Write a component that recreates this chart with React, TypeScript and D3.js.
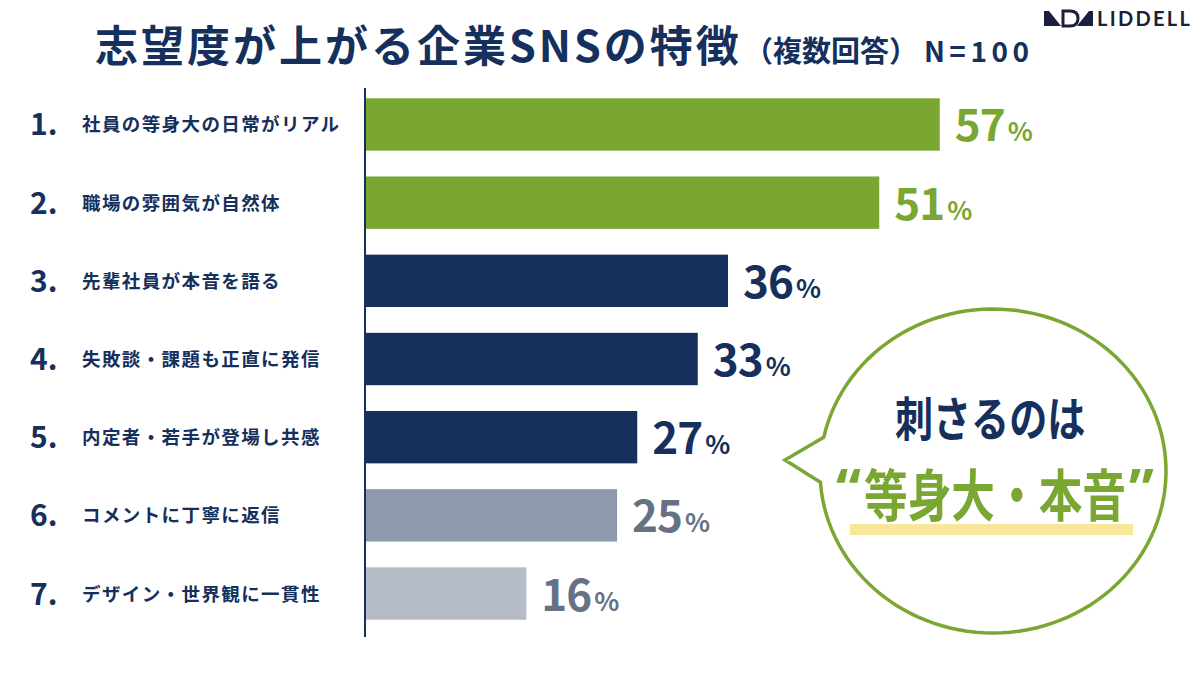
import * as d3 from "d3";

// survey data (N=100, multiple answers)
const ranks = ["1.", "2.", "3.", "4.", "5.", "6.", "7."];
const features = [
  "社員の等身大の日常がリアル",
  "職場の雰囲気が自然体",
  "先輩社員が本音を語る",
  "失敗談・課題も正直に発信",
  "内定者・若手が登場し共感",
  "コメントに丁寧に返信",
  "デザイン・世界観に一貫性",
];
const percents = [57, 51, 36, 33, 27, 25, 16];

const W = 1200;
const H = 675;
const NAVY = "#15305c";
const GREEN = "#7aa632";
const barFill = [GREEN, GREEN, NAVY, NAVY, NAVY, "#8e9aab", "#b5bcc8"];
const valueFill = [GREEN, GREEN, NAVY, NAVY, NAVY, "#667284", "#667284"];
const JP = "'Noto Sans CJK JP', 'Noto Sans', sans-serif";
const LATIN = "'Noto Sans', 'DejaVu Sans', sans-serif";

const x = d3.scaleLinear().domain([0, 60]).range([365, 970]);
const y = d3
  .scaleBand<string>()
  .domain(features)
  .range([85, 633])
  .paddingInner(0.33)
  .paddingOuter(0.17);

// speech bubble: ellipse with a tail pointing left
const cx = 993;
const cy = 471;
const rx = 173;
const ry = 162;
const bubblePath = () => {
  const tUp = Math.PI - 0.21;
  const tLow = Math.PI + 0.07;
  const p = d3.path();
  p.moveTo(cx + rx * Math.cos(tUp), cy - ry * Math.sin(tUp));
  p.lineTo(785, 460);
  p.lineTo(cx + rx * Math.cos(tLow), cy - ry * Math.sin(tLow));
  const span = 2 * Math.PI - (tLow - tUp);
  d3.range(1, 121).forEach((i) => {
    const t = tLow + (span * i) / 120;
    p.lineTo(cx + rx * Math.cos(t), cy - ry * Math.sin(t));
  });
  p.closePath();
  return p.toString();
};

export default function App() {
  return (
    <svg
      width={W}
      height={H}
      style={{ display: "block", position: "absolute", left: 0, top: 0, background: "#fff" }}
    >
      <rect width={W} height={H} fill="#fff" />

      {/* title */}
      <text x={95} y={62} fill={NAVY} fontFamily={JP} fontWeight={700}>
        <tspan fontSize={43} letterSpacing={3}>志望度が上がる企業SNSの特徴</tspan>
        <tspan fontSize={29} dx={2}>（複数回答）</tspan>
        <tspan fontSize={28} dx={6} letterSpacing={4.5}>N=100</tspan>
      </text>

      {/* logo */}
      <g fill="#1b1f3b">
        <path d="M1044,11 L1049,11 L1061,26 L1044,26 Z" />
        <path d="M1063,11 L1070,11 Q1078,11 1078,18.5 Q1078,26 1070,26 L1063,26 Z" fill="none" stroke="#1b1f3b" strokeWidth={3} />
        <path d="M1077,26 L1089,11 L1093,11 L1093,26 Z" />
        <text x={1097} y={26} fontFamily="'Lato', 'Noto Sans', sans-serif" fontWeight={700} fontSize={20} letterSpacing={2.3}>
          LIDDELL
        </text>
      </g>

      {/* axis line */}
      <line x1={x(0)} x2={x(0)} y1={88} y2={637} stroke={NAVY} strokeWidth={2} />

      {features.map((f, i) => {
        const yc = (y(f) ?? 0) + y.bandwidth() / 2;
        return (
          <g key={f}>
            <text x={30} y={yc + 11} fill={NAVY} fontFamily={JP} fontWeight={700} fontSize={30}>
              {ranks[i]}
            </text>
            <text x={82} y={yc + 7} fill={NAVY} fontFamily={JP} fontWeight={700} fontSize={18.5} letterSpacing={1.4}>
              {f}
            </text>
            <rect x={x(0) + 1} y={y(f)} width={x(percents[i]) - x(0) - 1} height={y.bandwidth()} fill={barFill[i]} />
            <text x={x(percents[i]) + 15} y={yc + 17} fill={valueFill[i]} fontFamily={JP} fontWeight={700}>
              <tspan fontSize={44} letterSpacing={-1}>{percents[i]}</tspan>
              <tspan fontSize={26} dx={3}>%</tspan>
            </text>
          </g>
        );
      })}

      {/* callout */}
      <path d={bubblePath()} fill="#fff" stroke={GREEN} strokeWidth={3.5} strokeLinejoin="miter" />
      <g transform="translate(895,436) scale(0.81,1)">
        <text fill={NAVY} fontFamily={JP} fontWeight={700} fontSize={47}>
          刺さるのは
        </text>
      </g>
      <rect x={850} y={524} width={283} height={11} fill="#f8e79a" />
      <text x={836} y={509} fill={GREEN} fontFamily={LATIN} fontWeight={700} fontSize={56}>
        “
      </text>
      <g transform="translate(864,516) scale(0.78,1)">
        <text fill={GREEN} fontFamily={JP} fontWeight={700} fontSize={56}>
          等身大・本音
        </text>
      </g>
      <text x={1129} y={509} fill={GREEN} fontFamily={LATIN} fontWeight={700} fontSize={56}>
        ”
      </text>
    </svg>
  );
}
